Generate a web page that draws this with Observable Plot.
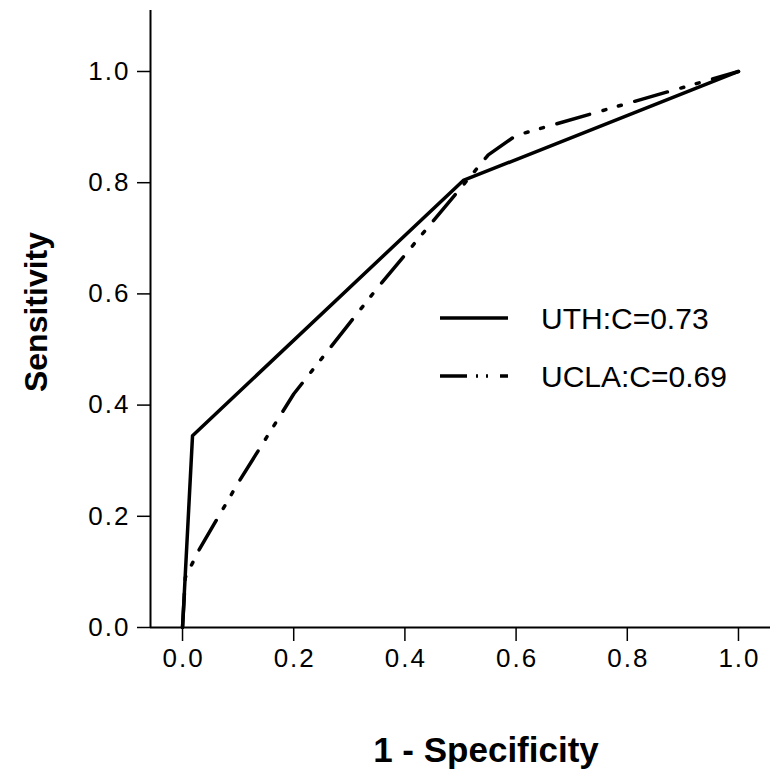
<!DOCTYPE html>
<html>
<head>
<meta charset="utf-8">
<script src="https://cdn.jsdelivr.net/npm/d3@7"></script>
<script src="https://cdn.jsdelivr.net/npm/@observablehq/plot@0.6"></script>
<style>
  html, body { margin: 0; padding: 0; background: white; }
  #chart svg { display: block; }
</style>
</head>
<body>
<div id="chart"></div>
<script>
// Data
const uthX  = [0, 0.018, 0.505, 1.0];
const uthY  = [0, 0.345, 0.804, 1.0];
const uclaX = [0, 0.005, 0.03, 0.1, 0.2, 0.35, 0.5, 0.55, 0.6, 1.0];
const uclaY = [0, 0.09, 0.14, 0.26, 0.42, 0.61, 0.79, 0.85, 0.885, 1.0];
const xTicks = [0, 0.2, 0.4, 0.6, 0.8, 1.0];
const yTicks = [0, 0.2, 0.4, 0.6, 0.8, 1.0];
const seriesNames = ["UTH:C=0.73", "UCLA:C=0.69"];
const xTitle = "1 - Specificity";
const yTitle = "Sensitivity";

const uth = uthX.map((x, i) => ({x, y: uthY[i]}));
const ucla = uclaX.map((x, i) => ({x, y: uclaY[i]}));

const xDomain = [-0.0576, 1.0576];
const yDomain = [0, 1.1097];

const chart = Plot.plot({
  width: 781,
  height: 780,
  marginTop: 10,
  marginRight: 11,
  marginBottom: 153,
  marginLeft: 150,
  style: {fontFamily: "'Liberation Sans', Arial, sans-serif", fontSize: "26px", color: "black", background: "white"},
  x: {domain: xDomain},
  y: {domain: yDomain},
  marks: [
    Plot.ruleX([xDomain[0]], {stroke: "black", strokeWidth: 2}),
    Plot.ruleY([0], {stroke: "black", strokeWidth: 2}),
    Plot.axisX({ticks: xTicks, tickSize: 14, tickPadding: 7, tickFormat: d3.format(".1f"), strokeWidth: 1.5, label: null, fontSize: 26}),
    Plot.axisY({ticks: yTicks, tickSize: 13, tickPadding: 9, tickFormat: d3.format(".1f"), strokeWidth: 1.5, label: null, fontSize: 26}),
    Plot.line(ucla, {x: "x", y: "y", stroke: "black", strokeWidth: 3.5, strokeDasharray: "34 14 3 13 3 14"}),
    Plot.line(uth, {x: "x", y: "y", stroke: "black", strokeWidth: 3.5})
  ]
});

document.getElementById("chart").appendChild(chart);

const svg = d3.select(chart);
const FONT = "'Liberation Sans', Arial, sans-serif";
// Widen tick labels slightly like the reference
svg.selectAll('g[aria-label="x-axis tick label"] text').attr("letter-spacing", 2).attr("dx", 1);
svg.selectAll('g[aria-label="y-axis tick label"] text').attr("letter-spacing", 2).attr("dx", 2);

// Legend
const legend = svg.append("g").attr("text-anchor", "start");
const dashes = [null, "27 9 2 8 2 12"];
seriesNames.forEach((name, i) => {
  const yy = 318 + i * 58;
  legend.append("line")
    .attr("x1", 440).attr("x2", 508).attr("y1", yy).attr("y2", yy)
    .attr("stroke", "black").attr("stroke-width", 3.5)
    .attr("stroke-dasharray", dashes[i]);
  legend.append("text")
    .attr("x", 541).attr("y", yy + 11)
    .attr("text-anchor", "start")
    .attr("font-size", 30)
    .attr("font-family", FONT)
    .attr("fill", "black")
    .text(name);
});
// Axis titles
svg.append("text")
  .attr("x", 486).attr("y", 762)
  .attr("text-anchor", "middle")
  .attr("font-size", 35).attr("font-weight", "bold")
  .attr("font-family", FONT)
  .attr("fill", "black")
  .text(xTitle);
svg.append("text")
  .attr("transform", "translate(47,312) rotate(-90)")
  .attr("text-anchor", "middle")
  .attr("font-size", 32).attr("font-weight", "bold")
  .attr("font-family", FONT)
  .attr("fill", "black")
  .text(yTitle);
</script>
</body>
</html>
